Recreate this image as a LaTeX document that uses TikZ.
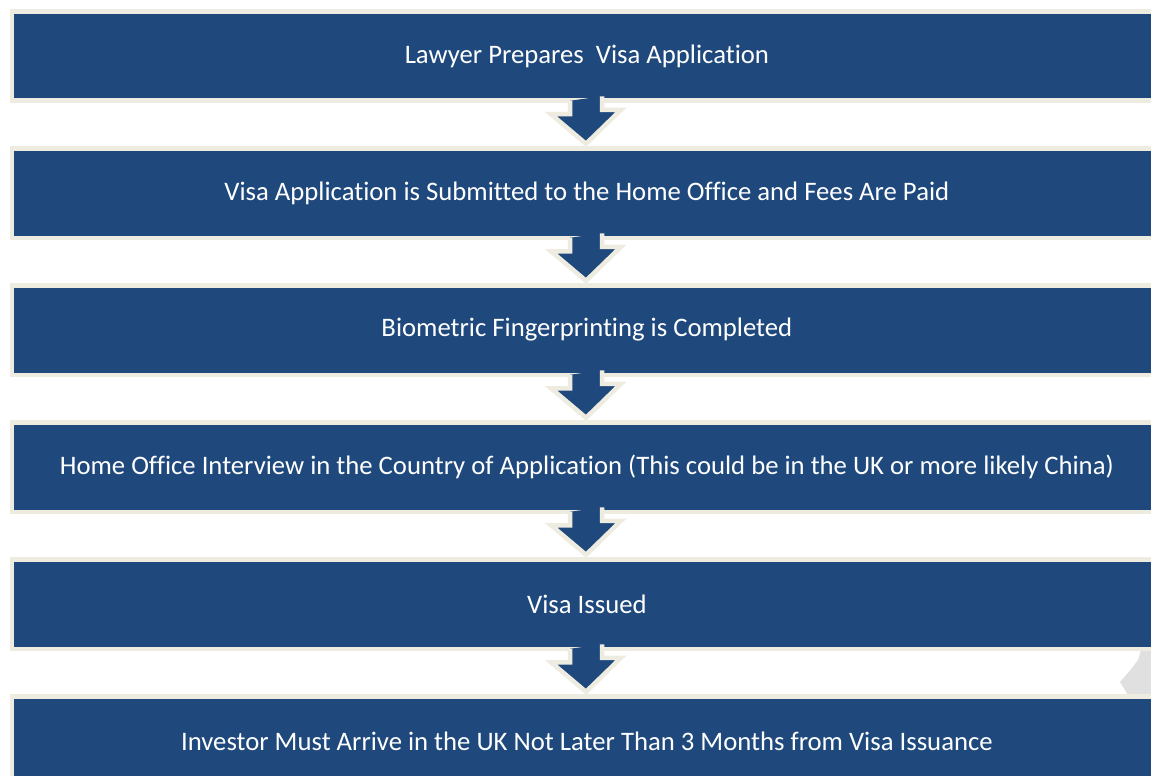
\documentclass[tikz,border=0pt]{standalone}
\usepackage{fontspec}
\setmainfont{Carlito}[Ligatures=NoCommon]
\usetikzlibrary{calc}

\definecolor{stepblue}{HTML}{1F497D}
\definecolor{stepcream}{HTML}{EEECE1}
\tikzset{
  stepbox/.style={fill=stepblue, draw=stepcream, line width=0.09cm,
    minimum width=24cm, minimum height=1.79cm, inner sep=0pt, anchor=west,
    text=white, font=\fontsize{15.2}{18}\selectfont,
    execute at begin node=\hspace*{-0.99cm}},
  steparrow/.style={fill=stepblue, draw=stepcream, line width=0.09cm,
    line join=miter}
}

\begin{document}
\begin{tikzpicture}[x=0.02cm,y=-0.02cm]
      \useasboundingbox[fill=white] (0,0) rectangle (1151,775) ;
      % grey patch on the right
      \fill[black!12] (1141,650) -- (1138,660) -- (1132,668) -- (1127,674) %
        -- (1120,682) -- (1125,690) -- (1128,696) -- (1160,696) -- (1160,650) -- cycle ;
      \coordinate (axis) at (586,0) ;
      \node[stepbox] (b1) at (9.5,56) {Lawyer Prepares\ \ Visa Application} ;
      \node[stepbox] (b2) at (9.5,193) {Visa Application is Submitted to the Home Office and Fees Are Paid} ;
      \node[stepbox] (b3) at (9.5,330) {Biometric Fingerprinting is Completed} ;
      \node[stepbox] (b4) at (9.5,467) {Home Office Interview in the Country of Application (This could be in the UK or more likely China)} ;
      \node[stepbox] (b5) at (9.5,604) {Visa Issued} ;
      \node[stepbox] (b6) at (9.5,741) {Investor Must Arrive in the UK Not Later Than 3 Months from Visa Issuance} ;
      % down arrows
      \filldraw[steparrow] ($(axis |- b1.south)+(-16,-2.25)$) -- ++(0,13.5) -- ++(-19,0) %
        -- ($(axis |- b2.north)+(0,-2.25)$) -- ++(35,-34) -- ++(-19,0) -- ++(0,-13.5) ;
      \filldraw[steparrow] ($(axis |- b2.south)+(-16,-2.25)$) -- ++(0,13.5) -- ++(-19,0) %
        -- ($(axis |- b3.north)+(0,-2.25)$) -- ++(35,-34) -- ++(-19,0) -- ++(0,-13.5) ;
      \filldraw[steparrow] ($(axis |- b3.south)+(-16,-2.25)$) -- ++(0,13.5) -- ++(-19,0) %
        -- ($(axis |- b4.north)+(0,-2.25)$) -- ++(35,-34) -- ++(-19,0) -- ++(0,-13.5) ;
      \filldraw[steparrow] ($(axis |- b4.south)+(-16,-2.25)$) -- ++(0,13.5) -- ++(-19,0) %
        -- ($(axis |- b5.north)+(0,-2.25)$) -- ++(35,-34) -- ++(-19,0) -- ++(0,-13.5) ;
      \filldraw[steparrow] ($(axis |- b5.south)+(-16,-2.25)$) -- ++(0,13.5) -- ++(-19,0) %
        -- ($(axis |- b6.north)+(0,-2.25)$) -- ++(35,-34) -- ++(-19,0) -- ++(0,-13.5) ;
    \end{tikzpicture}
\end{document}
